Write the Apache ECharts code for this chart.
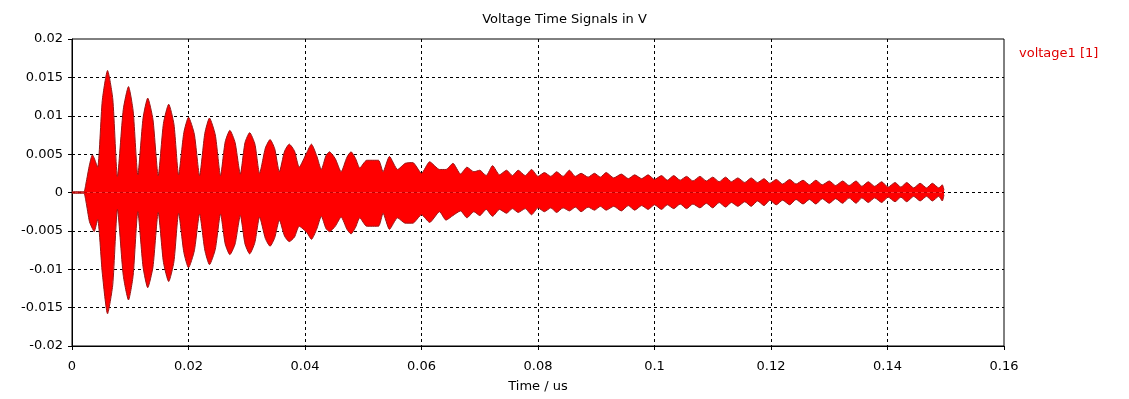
<!DOCTYPE html>
<html>
<head>
<meta charset="utf-8">
<script src="https://cdn.jsdelivr.net/npm/echarts@6/dist/echarts.min.js"></script>
<style>
  html, body { margin: 0; padding: 0; background: #fff; }
  #chart { width: 1129px; height: 399px; }
</style>
</head>
<body>
<div id="chart"></div>
<script>
// envelope of the voltage signal (time in us, volts)
const time = [
  0, 0.0020, 0.0024, 0.0030, 0.0035, 0.0038, 0.0044,
  0.0052, 0.0061, 0.0070, 0.0078,
  0.0088, 0.0097, 0.0105, 0.0113,
  0.0122, 0.0130, 0.0139, 0.0148,
  0.0157, 0.0166, 0.0175, 0.0183,
  0.0192, 0.0200, 0.0210, 0.0219,
  0.0228, 0.0236, 0.0246, 0.0255,
  0.0263, 0.0271, 0.0280, 0.0289,
  0.0297, 0.0305, 0.0314, 0.0322,
  0.0332, 0.0340, 0.0348, 0.0356,
  0.0365, 0.0373, 0.0382, 0.0390,
  0.0403, 0.0411, 0.0420, 0.0428,
  0.0436, 0.0442, 0.0452, 0.0462,
  0.0472, 0.0479, 0.0487, 0.0494,
  0.0506, 0.0526, 0.0534, 0.0545, 0.0559, 0.0572, 0.0585, 0.0600, 0.0614, 0.0631,
  0.0642, 0.0654, 0.0667, 0.0678, 0.0690, 0.0700, 0.0711, 0.0722, 0.0734, 0.0746,
  0.0756, 0.0766, 0.0778, 0.0789, 0.0800, 0.0811, 0.0822, 0.0832, 0.0843, 0.0854,
  0.0864, 0.0874, 0.0886, 0.0897, 0.0907, 0.0917,
  0.0930, 0.0943, 0.0955, 0.0966, 0.0978, 0.0989, 0.1000, 0.1012, 0.1022, 0.1033,
  0.1044, 0.1055, 0.1066, 0.1078, 0.1089, 0.1100, 0.1111, 0.1122, 0.1132, 0.1143,
  0.1155, 0.1166, 0.1177, 0.1188, 0.1198, 0.1209, 0.1220, 0.1232, 0.1243, 0.1255,
  0.1266, 0.1277, 0.1288, 0.1300, 0.1311, 0.1323, 0.1334, 0.1346, 0.1356, 0.1367,
  0.1378, 0.1390, 0.1401, 0.1413, 0.1423, 0.1433, 0.1445, 0.1456, 0.1467, 0.1477,
  0.1488, 0.1494, 0.1497
];
const upper = [
  0.0001, 0.0001, 0.0012, 0.0036, 0.0049, 0.0045, 0.0033,
  0.0120, 0.0159, 0.0122, 0.0021,
  0.0108, 0.0138, 0.0106, 0.0023,
  0.0097, 0.0123, 0.0095, 0.0022,
  0.0090, 0.0115, 0.0089, 0.0023,
  0.0078, 0.0098, 0.0076, 0.0022,
  0.0077, 0.0097, 0.0075, 0.0022,
  0.0066, 0.0081, 0.0065, 0.0024,
  0.0065, 0.0078, 0.0063, 0.0025,
  0.0058, 0.0069, 0.0057, 0.0027,
  0.0054, 0.0063, 0.0054, 0.0033,
  0.0052, 0.0063, 0.0048, 0.0030,
  0.0048, 0.0053, 0.0044, 0.0027,
  0.0046, 0.0053, 0.0044, 0.0032,
  0.0042, 0.0042, 0.0027, 0.0047, 0.0030, 0.0038, 0.0039, 0.0025, 0.0040, 0.0030,
  0.0030, 0.0038, 0.0024, 0.0033, 0.0027, 0.0029, 0.0022, 0.0035, 0.0023, 0.0029,
  0.0022, 0.0029, 0.0022, 0.0030, 0.0021, 0.0026, 0.0021, 0.0027, 0.0021, 0.0029,
  0.0021, 0.0025, 0.0020, 0.0025, 0.0020, 0.0026,
  0.0019, 0.0024, 0.0018, 0.0023, 0.0018, 0.0023, 0.0017, 0.0022, 0.0016, 0.0022,
  0.0016, 0.0021, 0.0015, 0.0021, 0.0015, 0.0020, 0.0014, 0.0020, 0.0014, 0.0019,
  0.0013, 0.0019, 0.0013, 0.0018, 0.0012, 0.0017, 0.0011, 0.0017, 0.0011, 0.0016,
  0.0010, 0.0016, 0.0010, 0.0015, 0.0009, 0.0015, 0.0009, 0.0015, 0.0008, 0.0014,
  0.0008, 0.0014, 0.0007, 0.0013, 0.0007, 0.0013, 0.0006, 0.0012, 0.0006, 0.0012,
  0.0006, 0.0010, 0.0003
];
const lower = [
  -0.0001, -0.0001, -0.0012, -0.0038, -0.0047, -0.0051, -0.0035,
  -0.0105, -0.0158, -0.0120, -0.0022,
  -0.0108, -0.0140, -0.0108, -0.0025,
  -0.0097, -0.0124, -0.0097, -0.0026,
  -0.0091, -0.0116, -0.0090, -0.0027,
  -0.0078, -0.0098, -0.0076, -0.0028,
  -0.0075, -0.0094, -0.0074, -0.0028,
  -0.0067, -0.0081, -0.0067, -0.0030,
  -0.0067, -0.0080, -0.0065, -0.0032,
  -0.0060, -0.0070, -0.0059, -0.0036,
  -0.0057, -0.0064, -0.0058, -0.0044,
  -0.0052, -0.0061, -0.0048, -0.0031,
  -0.0047, -0.0051, -0.0044, -0.0032,
  -0.0048, -0.0054, -0.0045, -0.0033,
  -0.0044, -0.0044, -0.0027, -0.0048, -0.0033, -0.0040, -0.0040, -0.0029, -0.0039, -0.0025,
  -0.0036, -0.0030, -0.0024, -0.0033, -0.0025, -0.0030, -0.0022, -0.0031, -0.0022, -0.0027,
  -0.0021, -0.0026, -0.0021, -0.0029, -0.0020, -0.0025, -0.0020, -0.0026, -0.0020, -0.0024,
  -0.0019, -0.0025, -0.0019, -0.0023, -0.0018, -0.0023,
  -0.0018, -0.0024, -0.0017, -0.0023, -0.0017, -0.0022, -0.0016, -0.0022, -0.0016, -0.0021,
  -0.0015, -0.0021, -0.0015, -0.0020, -0.0014, -0.0020, -0.0013, -0.0019, -0.0013, -0.0018,
  -0.0012, -0.0018, -0.0011, -0.0017, -0.0010, -0.0016, -0.0010, -0.0016, -0.0009, -0.0015,
  -0.0009, -0.0015, -0.0008, -0.0014, -0.0008, -0.0014, -0.0007, -0.0014, -0.0007, -0.0013,
  -0.0007, -0.0013, -0.0006, -0.0012, -0.0006, -0.0012, -0.0005, -0.0011, -0.0005, -0.0011,
  -0.0005, -0.0011, -0.0003
];
const seriesName = 'voltage1 [1]';

const font = 'DejaVu Sans';
const fontSize = 13;
const chart = echarts.init(document.getElementById('chart'));

const edge = (vals) => ({
  name: seriesName,
  type: 'line',
  data: time.map((t, i) => [t, vals[i]]),
  symbol: 'none',
  smooth: 0.2,
  animation: false,
  lineStyle: { color: '#9a1515', width: 1 },
  areaStyle: { color: '#ff0000', opacity: 1, origin: 0 },
  itemStyle: { color: '#e00000' }
});

const dashed = { show: true, showMinLine: false, showMaxLine: false, lineStyle: { color: '#000', type: [3, 3], width: 1 } };

chart.setOption({
  backgroundColor: '#fff',
  animation: false,
  title: {
    text: 'Voltage Time Signals in V',
    left: 'center',
    top: 8,
    textStyle: { fontFamily: font, fontSize: fontSize, fontWeight: 'normal', color: '#000' }
  },
  legend: {
    data: [seriesName],
    left: 1009,
    top: 42,
    icon: 'none',
    itemWidth: 0,
    itemGap: 0,
    textStyle: { fontFamily: font, fontSize: fontSize, color: '#e00000' }
  },
  grid: {
    left: 72, right: 125, top: 39, bottom: 53,
    show: true, borderColor: '#000', borderWidth: 1, backgroundColor: '#fff'
  },
  xAxis: {
    type: 'value',
    min: 0, max: 0.16, interval: 0.02,
    name: 'Time / us',
    nameLocation: 'middle',
    nameGap: 34,
    nameTextStyle: { fontFamily: font, fontSize: fontSize, color: '#000' },
    axisLine: { onZero: false, lineStyle: { color: '#000', width: 1 } },
    axisTick: { show: true, length: 4, lineStyle: { color: '#000' } },
    axisLabel: { fontFamily: font, fontSize: fontSize, color: '#000', margin: 14 },
    splitLine: dashed
  },
  yAxis: {
    type: 'value',
    min: -0.02, max: 0.02, interval: 0.005,
    axisLine: { show: true, lineStyle: { color: '#000', width: 1 } },
    axisTick: { show: true, length: 4, lineStyle: { color: '#000' } },
    axisLabel: { fontFamily: font, fontSize: fontSize, color: '#000', margin: 9 },
    splitLine: dashed
  },
  series: [edge(upper), edge(lower)]
});
</script>
</body>
</html>
